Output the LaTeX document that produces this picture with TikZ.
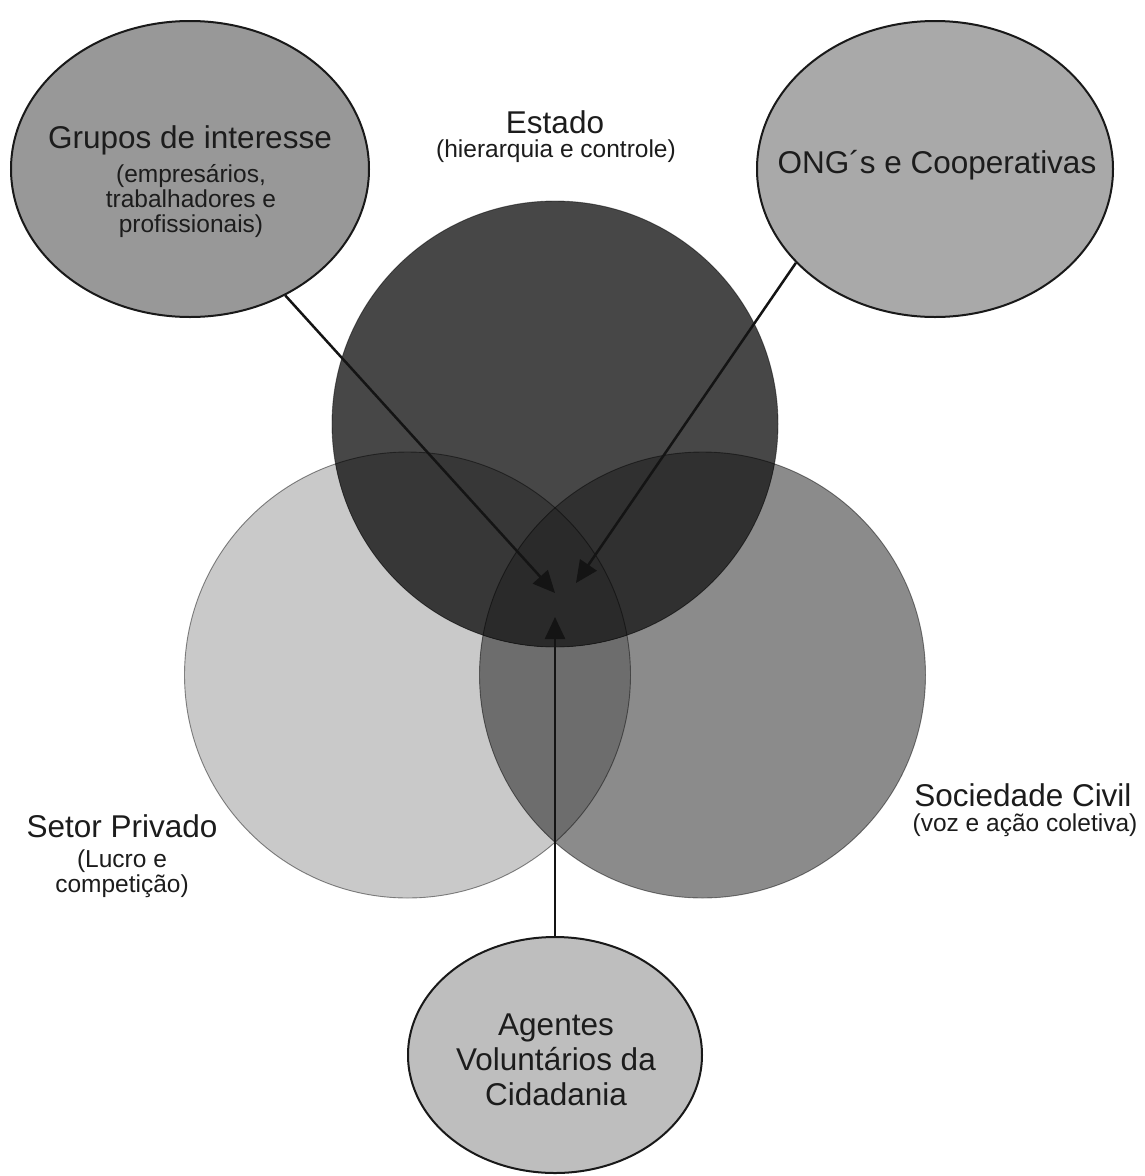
\documentclass[tikz,border=0pt]{standalone}
\usepackage{fontspec}
\setmainfont{Liberation Sans}
\usetikzlibrary{arrows.meta,shapes.geometric}
\definecolor{estadoC}{HTML}{474747}
\definecolor{privC}{HTML}{C9C9C9}
\definecolor{civilC}{HTML}{8B8B8B}
\definecolor{pcC}{HTML}{6D6D6D}
\definecolor{epC}{HTML}{373737}
\definecolor{ecC}{HTML}{303030}
\definecolor{tripleC}{HTML}{2A2A2A}
\definecolor{gruposC}{HTML}{989898}
\definecolor{ongC}{HTML}{A9A9A9}
\definecolor{agentesC}{HTML}{BEBEBE}
\definecolor{txtC}{HTML}{1C1C1C}
\begin{document}
\begin{tikzpicture}[x=1pt,y=-1pt,
  bubble/.style={ellipse,draw=black!90,line width=2pt,inner sep=0pt},
  maintxt/.style={anchor=base,inner sep=0pt,text=txtC,font=\fontsize{31.5}{35}\selectfont},
  subtxt/.style={anchor=base,inner sep=0pt,text=txtC,font=\fontsize{24.5}{26}\selectfont},
  arrowline/.style={draw=black!92,line width=2.5pt,-{Triangle[width=20pt,length=22pt]}},
  rim/.style={draw=black,draw opacity=0.45,line width=0.9pt}]
\useasboundingbox (0,0) rectangle (1144,1176);
\fill[white] (0,0) rectangle (1144,1176);
% circle centres
\coordinate (cE) at (555,424);
\coordinate (cP) at (407.5,675);
\coordinate (cC) at (702.5,675);
% base fills
\fill[privC] (cP) circle (223pt);
\fill[civilC] (cC) circle (223pt);
\begin{scope}
  \clip (cP) circle (223pt);
  \fill[pcC] (cC) circle (223pt);
\end{scope}
\fill[estadoC] (cE) circle (223pt);
\begin{scope}
  \clip (cE) circle (223pt);
  \fill[epC] (cP) circle (223pt);
  \fill[ecC] (cC) circle (223pt);
  \clip (cP) circle (223pt);
  \fill[tripleC] (cC) circle (223pt);
\end{scope}
\draw[rim] (cP) circle (223pt);
\draw[rim] (cC) circle (223pt);
\draw[rim] (cE) circle (223pt);
% bubbles
\node[bubble,fill=gruposC,minimum width=358pt,minimum height=296pt] (grupos) at (190,169) {};
\node[bubble,fill=ongC,minimum width=356pt,minimum height=296pt] (ong) at (935,169) {};
\node[bubble,fill=agentesC,minimum width=294pt,minimum height=236pt] (agentes) at (555,1055) {};
% bubble texts
\node[maintxt] (g1) at (190,148) {Grupos de interesse};
\node[subtxt] (g2) at (191,182) {(empresários,};
\node[subtxt] (g3) at (191,207) {trabalhadores e};
\node[subtxt] (g4) at (191,232) {profissionais)};
\node[maintxt] (o1) at (937,173) {ONG´s e Cooperativas};
\node[maintxt] (a1) at (556,1035) {Agentes};
\node[maintxt] (a2) at (556,1070) {Voluntários da};
\node[maintxt] (a3) at (556,1105) {Cidadania};
% circle labels
\node[maintxt] (e1) at (555,133) {Estado};
\node[subtxt] (e2) at (556,157) {(hierarquia e controle)};
\node[maintxt] (p1) at (122,837) {Setor Privado};
\node[subtxt] (p2) at (122,867) {(Lucro e};
\node[subtxt] (p3) at (122,892) {competição)};
\node[maintxt] (s1) at (1023,806) {Sociedade Civil};
\node[subtxt] (s2) at (1025,831) {(voz e ação coletiva)};
% arrows
\coordinate (tipA) at (555,593);
\coordinate (tipB) at (576,583);
\coordinate (tipC) at (555,617);
\draw[arrowline] (grupos.-53) -- (tipA);
\draw[arrowline] (ong.-146) -- (tipB);
\draw[arrowline] (agentes.north) -- (tipC);
\end{tikzpicture}
\end{document}
